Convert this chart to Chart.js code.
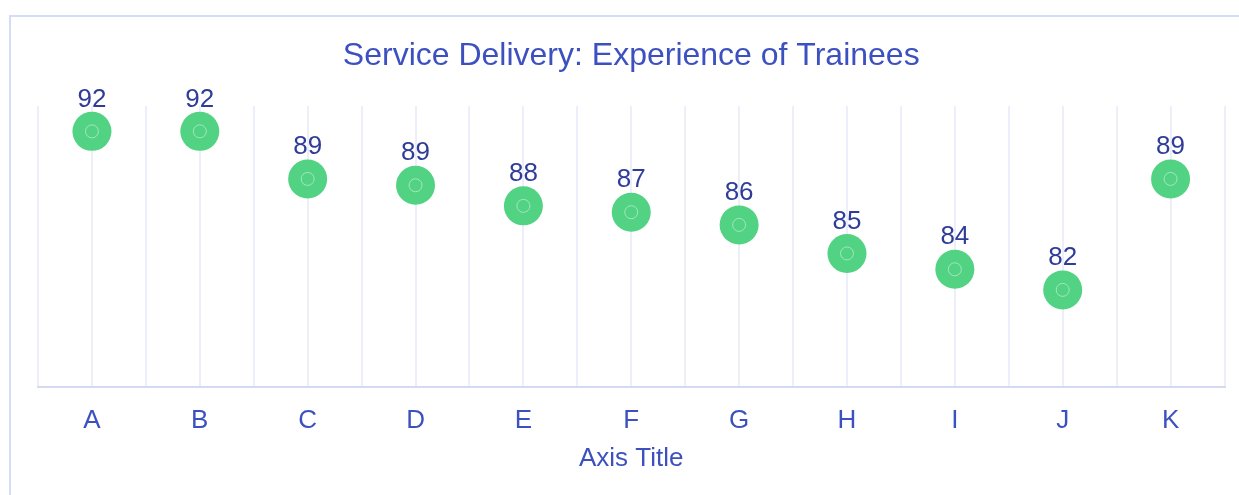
<!DOCTYPE html>
<html>
<head>
<meta charset="utf-8">
<script src="https://cdn.jsdelivr.net/npm/chart.js@4"></script>
<style>
  html, body { margin: 0; padding: 0; background: #fff; overflow: hidden; }
  .frame {
    position: absolute; left: 9px; top: 15px; width: 1300px; height: 520px;
    border: 2px solid #d5dcf5; box-sizing: border-box;
  }
  #chart { position: absolute; left: 0; top: 0; }
</style>
</head>
<body>
<div class="frame"></div>
<canvas id="chart" width="1244" height="495"></canvas>
<script>
const categories = ["A", "B", "C", "D", "E", "F", "G", "H", "I", "J", "K"];
const scores = [92.3, 92.3, 89.3, 88.9, 87.6, 87.2, 86.4, 84.6, 83.6, 82.3, 89.3];

const titleText = "Service Delivery: Experience of Trainees";
const xAxisTitle = "Axis Title";

const FONT = "'Liberation Sans', Arial, sans-serif";

// labels above the points (rounded like the original)
const pointLabels = {
  id: "pointLabels",
  afterDatasetsDraw(chart) {
    const ctx = chart.ctx;
    const meta = chart.getDatasetMeta(0);
    ctx.save();
    ctx.fillStyle = "#2f3d99";
    ctx.font = "26px " + FONT;
    ctx.textAlign = "center";
    ctx.textBaseline = "middle";
    meta.data.forEach((pt, i) => {
      ctx.fillText(Math.round(scores[i]), pt.x, pt.y - 32);
    });
    ctx.restore();
  },
};

new Chart(document.getElementById("chart"), {
  type: "line",
  data: {
    labels: categories,
    datasets: [
      {
        data: scores,
        order: 1,
        showLine: false,
        pointRadius: 19.5,
        pointBackgroundColor: "#52d283",
        pointBorderWidth: 0,
        xAxisID: "x",
      },
      {
        // faint ring in the middle of each dot
        data: scores,
        order: 0,
        showLine: false,
        pointRadius: 6.5,
        pointBackgroundColor: "rgba(0,0,0,0)",
        pointBorderColor: "#a3e8bc",
        pointBorderWidth: 1,
        xAxisID: "x",
      },
    ],
  },
  options: {
    responsive: false,
    animation: false,
    events: [],
    layout: { padding: { left: 38, right: 0, top: 20, bottom: 21 } },
    plugins: {
      legend: { display: false },
      tooltip: { enabled: false },
      title: {
        display: true,
        fullSize: false,
        text: titleText,
        color: "#3d50bf",
        font: { family: FONT, size: 32, weight: "normal" },
        padding: { top: 17.4, bottom: 30.2 },
      },
    },
    scales: {
      x: {
        type: "category",
        offset: true,
        grid: {
          offset: true, color: "#eceffa", lineWidth: 2,
          drawTicks: true, tickLength: 19, tickColor: "rgba(0,0,0,0)",
        },
        border: { color: "#d3dbf3", width: 2 },
        ticks: {
          color: "#3d50bf",
          padding: 0,
          font: { family: FONT, size: 26 },
        },
        title: {
          display: true,
          text: xAxisTitle,
          color: "#3d50bf",
          padding: { top: 6, bottom: 0 },
          font: { family: FONT, size: 26 },
        },
      },
      x2: {
        // second category axis only for the grid lines at the category centres
        type: "category",
        position: "bottom",
        offset: true,
        grid: { offset: false, color: "#eceffa", lineWidth: 2, drawTicks: false },
        border: { display: false },
        ticks: { display: false },
        afterFit(scale) { scale.height = 0; },
      },
      y: {
        display: false,
        min: 76.2,
        max: 93.9,
      },
    },
  },
  plugins: [pointLabels],
});
</script>
</body>
</html>
